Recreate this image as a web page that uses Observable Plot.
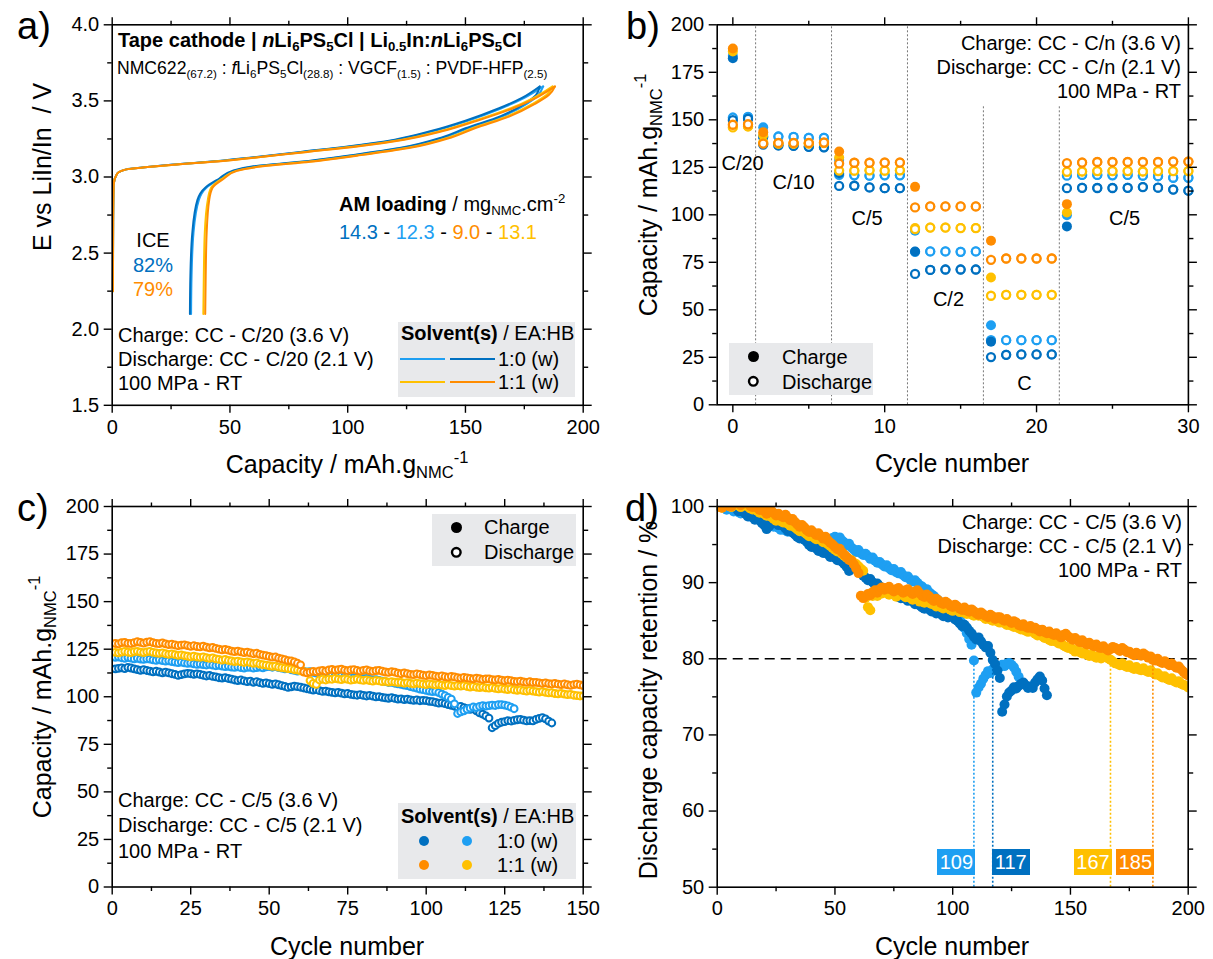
<!DOCTYPE html>
<html><head><meta charset="utf-8">
<script src="https://cdn.jsdelivr.net/npm/d3@7"></script>
<script src="https://cdn.jsdelivr.net/npm/@observablehq/plot@0.6"></script>
<style>
html,body{margin:0;padding:0;background:#fff;}
#fig{position:relative;width:1213px;height:959px;overflow:hidden;font-family:"Liberation Sans",Arial,sans-serif;color:#000;background:#fff;}
.pl{position:absolute;}
.pl svg{overflow:visible;}
.t{position:absolute;white-space:nowrap;line-height:1;}
.t sub{font-size:0.66em;vertical-align:-0.32em;line-height:0;}
.t sup{font-size:0.66em;vertical-align:0.62em;line-height:0;}
.box{position:absolute;background:#e8e9eb;}
</style></head><body><div id="fig"></div><script>
// ---------------- DATA ----------------
const seriesKeys = ["db", "lb", "yl", "or"];   // 1:0 (w) dark, 1:0 (w) light, 1:1 (w) yellow, 1:1 (w) orange
const seriesColors = {db: "#0070C0", lb: "#1E9FF2", yl: "#FFC000", or: "#FF8C00"};

// (a) voltage profiles, first cycle C/20
const chargeV = [2.25,2.70,2.95,3.02,3.05,3.065,3.08,3.105,3.13,3.165,3.20,3.245,3.30,3.37,3.45,3.52,3.595];
const chargeCapDB = [0.3,0.4,0.6,2,6,15,25,45,60,80,100,120,135,150,164,174,181.5];
const chargeCapLB = [0.3,0.4,0.6,2,6,15,25,46,61,81,101,121,136,151,165,175,183];
const chargeCapYL = [0.3,0.4,0.6,2,6,15,26,46,62,82,103,123,139,154,169,179,187];
const chargeCapOR = [0.3,0.4,0.6,2,6,15,26,47,62,83,104,124,140,155,170,180,188];
const dischargeV = [3.595,3.54,3.48,3.40,3.32,3.26,3.19,3.14,3.10,3.07,3.04,2.99,2.93,2.85,2.63,2.35,2.10];
const dischargeCapDB = [181.5,180,175,165,150,140,122,100,80,60,51,45.5,39.5,36.2,34,33.2,33];
const dischargeCapLB = [183,181,176,166,151,141,123,101,81,61,51.5,46,40,36.8,34.5,33.7,33.5];
const dischargeCapYL = [187,184.5,178.5,168,153,143,125,103,83,63,52.5,46.8,42,40.6,39.3,38.9,38.7];
const dischargeCapOR = [188,185.5,179.5,169,154,144,126,104,84,64,53,47.5,42.6,41.2,40.1,39.7,39.5];

// (b) rate capability, cycles 0..30
const rateCycles = [0,1,2,3,4,5,6,7,8,9,10,11,12,13,14,15,16,17,18,19,20,21,22,23,24,25,26,27,28,29,30];
const rateChargeLB = [183.7,151.5,146.1,141.2,141.0,140.5,140.5,128.9,120.8,120.6,120.8,120.8,91.6,80.7,80.7,80.5,80.7,41.9,34.0,34.0,34.0,34.0,99.8,121.0,121.0,120.8,121.0,120.6,120.3,119.5,119.5];
const rateDischargeLB = [151.2,151.5,141.0,141.2,141.0,140.5,140.5,121.0,120.8,120.6,120.8,120.8,80.5,80.7,80.7,80.5,80.7,34.0,34.0,34.0,34.0,34.0,120.6,121.0,121.0,120.8,121.0,120.6,120.3,119.5,119.5];
const rateChargeDB = [182.4,150.5,141.0,136.5,136.3,135.8,135.5,121.9,115.3,114.4,114.0,114.0,80.7,71.0,71.2,71.2,71.2,33.2,26.3,26.5,26.5,26.5,93.9,114.2,114.1,114.1,114.2,114.6,114.3,113.3,112.7];
const rateDischargeDB = [149.8,150.5,137.0,136.5,136.3,135.8,135.5,115.2,115.3,114.4,114.0,114.0,68.9,71.0,71.2,71.2,71.2,25.1,26.3,26.5,26.5,26.5,114.0,114.2,114.1,114.1,114.2,114.6,114.3,113.3,112.7];
const rateChargeYL = [186.0,146.5,142.0,137.5,137.5,137.5,137.8,130.2,123.2,123.4,123.2,123.4,93.0,93.3,93.3,93.0,93.0,67.0,57.9,57.9,57.9,57.9,101.2,122.8,123.0,123.0,123.0,122.8,123.0,123.0,123.0];
const rateDischargeYL = [146.0,146.5,138.0,137.5,137.5,137.5,137.8,123.3,123.2,123.4,123.2,123.4,92.5,93.3,93.3,93.0,93.0,57.4,57.9,57.9,57.9,57.9,122.6,122.8,123.0,123.0,123.0,122.8,123.0,123.0,123.0];
const rateChargeOR = [187.5,147.6,143.5,137.8,137.8,137.8,138.0,133.3,127.4,127.4,127.5,127.5,114.7,104.4,104.4,104.4,104.4,86.3,77.0,77.0,77.0,77.0,105.6,127.5,127.8,127.8,127.8,127.8,127.8,128.0,128.0];
const rateDischargeOR = [147.4,147.6,137.5,137.8,137.8,137.8,138.0,127.0,127.4,127.4,127.5,127.5,103.9,104.4,104.4,104.4,104.4,76.3,77.0,77.0,77.0,77.0,127.2,127.5,127.8,127.8,127.8,127.8,127.8,128.0,128.0];
const rateLabels = ["C/20","C/10","C/5","C/2","C","C/5"];
const rateLabelX = [0.64,4.0,8.84,14.2,19.2,25.8];
const rateLabelY = [127.2,117.2,97.9,55.3,11.4,97.9];
const dividerX = [1.5,6.5,11.5,16.5,21.5];
const dividerTop = [200,200,200,157,157];

// (c)/(d) long cycling at C/5, discharge capacity, cycle 1..N
const cycDB = [114.6,114.9,115.2,114.8,115.4,115.1,114.7,114.3,113.9,
114.2,113.8,113.5,113.1,113.4,113.0,112.6,112.9,112.5,112.1,
111.8,111.2,111.6,112.0,112.3,112.1,111.8,112.0,111.7,111.3,
110.9,111.2,110.7,110.4,110.0,109.8,110.1,109.6,109.3,108.8,
108.5,108.8,108.3,107.9,108.2,107.6,107.9,107.4,107.0,107.3,
106.9,106.5,106.8,106.3,105.9,105.5,104.9,105.2,105.6,105.3,
105.0,104.6,104.2,103.9,103.5,103.7,103.2,102.8,103.0,102.6,
102.3,102.0,102.3,101.9,101.5,101.7,101.3,101.0,100.8,101.1,
100.7,100.4,100.7,100.3,99.9,100.1,99.7,99.4,99.2,99.5,
99.1,98.8,98.9,98.5,98.8,98.4,98.1,98.3,97.9,98.1,
98.0,97.6,97.4,97.0,96.6,96.8,96.4,95.9,95.5,95.0,
94.6,94.9,94.3,93.8,93.4,93.6,92.6,91.5,90.9,89.9,
88.8,83.7,84.8,86.0,86.6,86.9,87.4,87.2,87.6,87.9,
88.1,87.7,87.3,87.5,87.3,88.1,88.6,89.0,88.4,87.2,
86.2];
const cycLB = [120.7,120.9,120.5,120.2,120.6,120.3,119.9,120.2,119.8,
119.6,119.9,119.8,119.4,119.1,119.4,119.0,118.7,118.9,118.5,
118.2,117.9,118.2,117.8,117.5,117.7,117.3,117.0,117.2,116.9,
116.7,117.0,116.6,116.3,116.5,116.1,115.8,116.0,115.6,115.4,
115.7,115.3,115.1,115.4,115.4,115.0,115.3,115.6,115.2,115.7,
115.9,115.5,115.8,115.3,115.0,114.6,114.8,114.2,113.9,113.5,
113.8,113.3,113.0,113.2,112.8,112.4,112.6,112.1,111.8,111.9,
111.5,111.2,111.4,110.9,110.6,110.8,110.3,110.1,110.3,109.8,
109.5,109.6,109.1,108.8,109.0,108.6,108.2,108.0,107.5,107.6,
107.1,106.8,106.5,106.1,105.8,105.3,104.9,104.5,104.0,103.7,
103.3,103.0,102.7,102.8,102.2,101.4,100.6,99.7,98.8,96.3,
91.2,92.0,92.6,93.4,94.0,94.6,94.3,94.9,95.3,95.1,
95.3,95.6,95.4,95.8,95.9,95.6,95.2,94.5,93.7];
const cycYL = [123.3,123.1,123.5,123.8,123.4,123.2,123.7,123.9,123.5,
123.2,123.6,123.8,123.3,123.0,122.8,123.1,122.6,122.3,122.5,
122.1,121.8,122.0,121.6,121.3,121.0,121.3,120.9,120.7,121.0,
120.5,120.2,120.4,119.9,119.6,119.3,119.6,119.1,118.8,118.5,
118.7,118.3,118.0,118.3,117.9,117.5,117.8,117.2,116.9,116.6,
116.3,116.0,116.1,115.6,115.3,115.0,114.8,114.6,114.2,114.0,
113.6,113.2,112.9,108.5,107.0,106.5,108.8,109.2,108.8,109.3,
109.2,109.6,109.3,109.0,109.4,109.1,108.7,109.0,109.3,108.9,
108.6,108.9,108.5,108.2,108.6,108.3,107.9,108.1,107.7,108.0,
107.7,107.5,107.5,107.1,107.4,107.0,106.8,107.2,106.9,106.6,
106.4,106.8,106.5,106.2,106.5,106.1,105.9,106.2,105.8,105.6,
105.9,105.6,105.8,105.4,105.1,105.4,105.0,104.8,105.1,104.7,
104.5,104.8,104.4,104.1,104.4,104.0,103.8,104.1,103.6,103.4,
103.6,103.2,103.0,103.3,103.0,102.7,102.4,102.7,102.3,102.0,
102.1,101.7,101.5,101.8,101.4,101.1,101.2,100.8,100.6,100.4,
100.5,100.1,99.8,100.1,99.7,99.5,99.7,99.3,99.1,99.3,
99.0,98.8,99.1,98.7,98.9,99.0,98.7,98.5,98.2,97.9,
97.8,97.6,97.9,97.5,97.3,97.6,97.2,97.0,97.3,96.9,
96.8,97.1,96.7,96.5,96.8,96.4,96.1,96.3,95.9,95.6,
95.8,95.4,95.2,95.5,95.0,94.8,95.0,94.6,94.4,94.3,
94.0];
const cycOR = [128.0,127.8,128.4,128.6,128.1,128.0,128.5,128.9,128.6,
128.2,128.7,129.0,128.5,128.1,127.9,128.3,127.8,127.4,127.6,
127.2,126.8,127.1,127.3,126.9,126.5,126.8,126.4,126.2,126.6,
126.1,125.7,125.9,125.4,125.0,124.6,124.9,124.5,124.0,123.7,
124.0,123.6,123.2,123.5,123.0,122.6,122.9,122.3,121.9,121.6,
121.2,120.8,120.9,120.3,119.9,119.5,119.0,118.9,118.3,117.6,
116.8,113.0,112.6,112.9,113.3,113.1,113.6,113.9,113.5,114.1,
114.4,114.0,114.3,114.5,114.0,113.7,114.1,114.3,113.8,113.5,
113.9,114.1,113.6,113.3,113.7,113.9,113.4,113.0,112.8,113.2,
112.9,112.4,112.1,112.5,112.2,111.8,111.6,112.0,111.7,111.3,
111.1,111.5,111.2,110.8,110.6,111.0,110.5,110.3,110.7,110.4,
110.0,109.8,110.2,109.9,109.6,109.4,109.8,109.5,109.1,109.4,
109.4,109.0,108.8,109.1,108.7,108.4,108.7,108.5,108.1,107.9,
108.2,107.8,107.6,107.9,107.5,107.6,107.3,107.0,107.3,106.9,
106.7,107.0,106.6,106.4,106.7,106.3,106.0,106.4,106.6,106.2,
105.9,105.6,105.9,105.5,105.2,105.5,105.0,104.8,105.1,104.7,
104.5,104.8,104.3,104.2,104.5,104.1,103.8,104.0,104.4,104.2,
104.0,103.7,104.2,103.9,103.5,103.6,103.2,103.0,103.4,103.1,
102.9,103.3,103.0,102.6,102.8,102.2,102.1,102.4,101.9,101.7,
102.0,101.6,101.3,101.6,101.2,100.9,101.1,100.6,100.2,99.8,
99.6];
const eolThreshold = [80];
const eolCycles = [109, 117, 167, 185];
const eolSeries = ["lb", "db", "yl", "or"];

// ---------------- HELPERS ----------------
const fig = document.getElementById("fig");
const FONT = '"Liberation Sans", Arial, sans-serif';
function txt(html, x, base, o = {}) {
  const s = o.size || 20;
  const d = document.createElement("div");
  d.className = "t";
  d.innerHTML = html;
  d.style.fontSize = s + "px";
  if (o.bold) d.style.fontWeight = "bold";
  if (o.color) d.style.color = o.color;
  d.style.left = x + "px";
  d.style.top = (base - 0.847 * s) + "px";
  const a = o.anchor || "start";
  if (a === "middle") d.style.transform = "translateX(-50%)";
  if (a === "end") d.style.transform = "translateX(-100%)";
  fig.appendChild(d);
  return d;
}
function vtxt(html, cx, cy, s = 25) {
  const d = document.createElement("div");
  d.className = "t";
  d.innerHTML = html;
  d.style.fontSize = s + "px";
  d.style.left = cx + "px";
  d.style.top = cy + "px";
  d.style.transform = "translate(-50%,-50%) rotate(-90deg)";
  fig.appendChild(d);
}
function box(x, y, w, h, color = "#e8e9eb") {
  const d = document.createElement("div");
  d.className = "box";
  Object.assign(d.style, {left: x + "px", top: y + "px", width: w + "px", height: h + "px", background: color});
  fig.appendChild(d);
  return d;
}
function dotIcon(cx, cy, r, fill, stroke, sw) {
  const ns = "http://www.w3.org/2000/svg";
  const s = document.createElementNS(ns, "svg");
  const size = 2 * r + 6;
  s.setAttribute("width", size); s.setAttribute("height", size);
  s.style.position = "absolute"; s.style.left = (cx - size / 2) + "px"; s.style.top = (cy - size / 2) + "px";
  const c = document.createElementNS(ns, "circle");
  c.setAttribute("cx", size / 2); c.setAttribute("cy", size / 2); c.setAttribute("r", r);
  c.setAttribute("fill", fill); c.setAttribute("stroke", stroke || "none"); c.setAttribute("stroke-width", sw || 0);
  s.appendChild(c); fig.appendChild(s);
}
function lineIcon(x, y, w, color) {
  box(x, y - 1, w, 2.2, color);
}
function place(svg, left, top) {
  const w = document.createElement("div");
  w.className = "pl"; w.style.left = left + "px"; w.style.top = top + "px";
  w.appendChild(svg); fig.appendChild(w);
}
const blank = () => "";
function frameAxes(o) {
  const k = {label: null, strokeWidth: 1.4};
  return [
    Plot.axisX({...k, ticks: o.xMajor, anchor: "bottom", tickSize: 8, tickPadding: 6, tickFormat: o.xFmt || (d => String(d))}),
    Plot.axisX({...k, ticks: o.xMinor, anchor: "bottom", tickSize: 4.5, tickFormat: blank}),
    Plot.axisX({...k, ticks: o.xMajor, anchor: "top", tickSize: 8, tickFormat: blank}),
    Plot.axisX({...k, ticks: o.xMinor, anchor: "top", tickSize: 4.5, tickFormat: blank}),
    Plot.axisY({...k, ticks: o.yMajor, anchor: "left", tickSize: 8, tickPadding: 5, tickFormat: o.yFmt || (d => String(d))}),
    Plot.axisY({...k, ticks: o.yMinor, anchor: "left", tickSize: 4.5, tickFormat: blank}),
    Plot.axisY({...k, ticks: o.yMajor, anchor: "right", tickSize: 8, tickFormat: blank}),
    Plot.axisY({...k, ticks: o.yMinor, anchor: "right", tickSize: 4.5, tickFormat: blank}),
    Plot.frame({strokeWidth: 1.6})
  ];
}
const plotStyle = {fontFamily: FONT, fontSize: "20px", color: "black", background: "none", overflow: "visible"};
const range = (a, b, s) => d3.range(a, b + 1e-9, s);

// ---------------- PANEL A ----------------
const capA = {
  db: [chargeCapDB, dischargeCapDB], lb: [chargeCapLB, dischargeCapLB],
  yl: [chargeCapYL, dischargeCapYL], or: [chargeCapOR, dischargeCapOR]
};
const orderA = ["lb", "db", "yl", "or"];
const linesA = [];
for (const s of orderA) {
  const ch = chargeV.map((v, i) => ({C: capA[s][0][i], V: v}));
  const dis = dischargeV.map((v, i) => ({C: capA[s][1][i], V: v})).reverse();
  linesA.push(Plot.line(ch, {x: "C", y: "V", stroke: seriesColors[s], strokeWidth: 2, curve: "monotone-y"}));
  linesA.push(Plot.line(dis, {x: "C", y: "V", stroke: seriesColors[s], strokeWidth: 2, curve: "monotone-y"}));
}
const pA = Plot.plot({
  width: 606, height: 480, marginLeft: 111.7, marginRight: 23.3, marginTop: 24.3, marginBottom: 75.2,
  x: {domain: [0, 200]}, y: {domain: [1.5, 4.0]}, style: plotStyle,
  marks: [...linesA, ...frameAxes({xMajor: range(0, 200, 50), xMinor: range(25, 175, 50),
    yMajor: range(1.5, 4.0, 0.5), yMinor: range(1.75, 3.75, 0.5), yFmt: d3.format(".1f")})]
});
place(pA, 0, 0);

// ---------------- PANEL B ----------------
const rateData = {
  lb: [rateChargeLB, rateDischargeLB], db: [rateChargeDB, rateDischargeDB],
  yl: [rateChargeYL, rateDischargeYL], or: [rateChargeOR, rateDischargeOR]
};
const dotsB = [];
for (const s of ["lb", "db", "yl", "or"]) {
  const ch = rateCycles.map((c, i) => ({c, v: rateData[s][0][i]}));
  const dis = rateCycles.map((c, i) => ({c, v: rateData[s][1][i]}));
  dotsB.push(Plot.dot(ch, {x: "c", y: "v", r: 5, fill: seriesColors[s], stroke: "none"}));
  dotsB.push(Plot.dot(dis, {x: "c", y: "v", r: 4, fill: "white", stroke: seriesColors[s], strokeWidth: 2.3}));
}
const dividers = dividerX.map((x, i) => ({x, top: dividerTop[i]}));
const rateLab = rateLabels.map((t, i) => ({t, x: rateLabelX[i], y: rateLabelY[i]}));
const pB = Plot.plot({
  width: 607, height: 480, marginLeft: 110.7, marginRight: 25.1, marginTop: 24.3, marginBottom: 75.7,
  x: {domain: [-1.03, 30]}, y: {domain: [0, 200]}, style: plotStyle,
  marks: [
    Plot.ruleX(dividers, {x: "x", y1: 0, y2: "top", stroke: "#777", strokeWidth: 1, strokeDasharray: "2,2"}),
    ...dotsB,
    Plot.text(rateLab, {x: "x", y: "y", text: "t", fontSize: 20, fill: "black"}),
    ...frameAxes({xMajor: [0, 10, 20, 30], xMinor: [5, 15, 25], yMajor: range(0, 200, 25), yMinor: range(12.5, 187.5, 25)})
  ]
});
place(pB, 606, 0);

// ---------------- PANEL C ----------------
const cyc = {db: cycDB, lb: cycLB, yl: cycYL, or: cycOR};
const dotsC = [];
for (const s of ["db", "lb", "yl", "or"]) {
  const rows = cyc[s].map((v, i) => ({c: i + 1, v}));
  dotsC.push(Plot.dot(rows, {x: "c", y: "v", r: 3.4, fill: "white", stroke: seriesColors[s], strokeWidth: 2, clip: true}));
}
const pC = Plot.plot({
  width: 606, height: 479, marginLeft: 111.7, marginRight: 23.3, marginTop: 26, marginBottom: 72.5,
  x: {domain: [0, 150]}, y: {domain: [0, 200]}, style: plotStyle,
  marks: [...dotsC, ...frameAxes({xMajor: range(0, 150, 25), xMinor: range(12.5, 137.5, 25),
    yMajor: range(0, 200, 25), yMinor: range(12.5, 187.5, 25)})]
});
place(pC, 0, 480);

// ---------------- PANEL D ----------------
const dotsD = [];
for (const s of ["lb", "db", "yl", "or"]) {
  const ref = cyc[s][0];
  const rows = cyc[s].map((v, i) => ({c: i + 1, r: v / ref * 100}));
  dotsD.push(Plot.dot(rows, {x: "c", y: "r", r: 5, fill: seriesColors[s], stroke: "none", clip: true}));
}
const eolRows = eolCycles.map((c, i) => ({c, color: seriesColors[eolSeries[i]]}));
const pD = Plot.plot({
  width: 607, height: 479, marginLeft: 110.7, marginRight: 25.3, marginTop: 26, marginBottom: 72.3,
  x: {domain: [0, 200]}, y: {domain: [50, 100]}, style: plotStyle,
  marks: [
    Plot.ruleY(eolThreshold, {stroke: "black", strokeWidth: 1.6, strokeDasharray: "10,6"}),
    ...dotsD,
    ...eolRows.map(d => Plot.ruleX([d.c], {y1: 50, y2: eolThreshold[0], stroke: d.color, strokeWidth: 1.6, strokeDasharray: "2,2"})),
    ...frameAxes({xMajor: range(0, 200, 50), xMinor: range(25, 175, 50), yMajor: range(50, 100, 10), yMinor: range(55, 95, 10)})
  ]
});
place(pD, 606, 480);

// EOL labels in (d)
{
  const xs = pD.scale("x"), ys = pD.scale("y");
  const top = 480 + ys.apply(55.0), bot = 480 + ys.apply(51.55);
  const w = 38;
  eolCycles.forEach((c, i) => {
    const px = 606 + xs.apply(c);
    const left = (c === 117) ? px - 0.5 : px - w + 2;
    box(left, top, w, bot - top, seriesColors[eolSeries[i]]);
    txt(String(c), left + w / 2, top + (bot - top) / 2 + 7, {color: "white", anchor: "middle", size: 20});
  });
}

// ---------------- TEXT / LEGENDS ----------------
// panel letters
txt("a)", 17, 39, {size: 38}); txt("b)", 626, 39, {size: 38});
txt("c)", 17, 521, {size: 38}); txt("d)", 625, 521, {size: 38});

// axis titles
const capTitle = "Capacity / mAh.g<sub>NMC</sub><sup>-1</sup>";
txt(capTitle, 347, 473, {size: 25, anchor: "middle"});
txt("Cycle number", 952, 472, {size: 25, anchor: "middle"});
txt("Cycle number", 347, 955, {size: 25, anchor: "middle"});
txt("Cycle number", 952, 955, {size: 25, anchor: "middle"});
vtxt("E vs LiIn/In&nbsp; / V", 42, 167);
vtxt(capTitle, 648, 195);
vtxt(capTitle, 42, 697);
vtxt("Discharge capacity retention / %", 648, 700);

// panel a texts
txt("Tape cathode | <i>n</i>Li<sub>6</sub>PS<sub>5</sub>Cl | Li<sub>0.5</sub>In:<i>n</i>Li<sub>6</sub>PS<sub>5</sub>Cl", 118, 47, {size: 20, bold: true});
txt("NMC622<sub>(67.2)</sub> : <i>f</i>Li<sub>6</sub>PS<sub>5</sub>Cl<sub>(28.8)</sub> : VGCF<sub>(1.5)</sub> : PVDF-HFP<sub>(2.5)</sub>", 117, 75, {size: 17.6});
txt("<b>AM loading</b> / mg<sub>NMC</sub>.cm<sup>-2</sup>", 339, 211, {size: 20});
txt(`<span style="color:${seriesColors.db}">14.3</span> - <span style="color:${seriesColors.lb}">12.3</span> - <span style="color:${seriesColors.or}">9.0</span> - <span style="color:${seriesColors.yl}">13.1</span>`, 339, 238.5, {size: 20});
txt("ICE", 153, 247, {size: 20, anchor: "middle"});
txt("82%", 153, 272, {size: 20, anchor: "middle", color: seriesColors.db});
txt("79%", 153, 296, {size: 20, anchor: "middle", color: seriesColors.or});
txt("Charge: CC - C/20 (3.6 V)", 118, 342, {size: 20});
txt("Discharge: CC - C/20 (2.1 V)", 118, 366, {size: 20});
txt("100 MPa - RT", 118, 390, {size: 20});
box(398, 321.5, 177, 75);
txt("<b>Solvent(s)</b> / EA:HB", 401, 340, {size: 20});
lineIcon(400, 359, 45, seriesColors.lb); lineIcon(450, 359, 45, seriesColors.db);
lineIcon(400, 382, 45, seriesColors.yl); lineIcon(450, 382, 45, seriesColors.or);
txt("1:0 (w)", 498, 366, {size: 20});
txt("1:1 (w)", 498, 389, {size: 20});

// panel b texts
txt("Charge: CC - C/n (3.6 V)", 1181, 49.5, {size: 20, anchor: "end"});
txt("Discharge: CC - C/n (2.1 V)", 1181, 73.5, {size: 20, anchor: "end"});
txt("100 MPa - RT", 1181, 97.5, {size: 20, anchor: "end"});
box(729, 343, 144, 52);
dotIcon(753.3, 356.7, 5.5, "black");
dotIcon(753.3, 381.7, 4.3, "white", "black", 2.4);
txt("Charge", 782, 363.7, {size: 20});
txt("Discharge", 782, 388.7, {size: 20});

// panel c texts
box(431.7, 514, 144.3, 52);
dotIcon(456, 527.3, 5.5, "black");
dotIcon(456, 552.3, 4.3, "white", "black", 2.4);
txt("Charge", 484, 534.3, {size: 20});
txt("Discharge", 484, 559.3, {size: 20});
txt("Charge: CC - C/5 (3.6 V)", 118, 807, {size: 20});
txt("Discharge: CC - C/5 (2.1 V)", 118, 832, {size: 20});
txt("100 MPa - RT", 118, 858, {size: 20});
box(398, 803, 178, 76);
txt("<b>Solvent(s)</b> / EA:HB", 401, 823, {size: 20});
dotIcon(423.5, 840.7, 5, seriesColors.db); dotIcon(466.7, 840.7, 5, seriesColors.lb);
dotIcon(423.5, 865, 5, seriesColors.or); dotIcon(466.7, 865, 5, seriesColors.yl);
txt("1:0 (w)", 497, 848, {size: 20});
txt("1:1 (w)", 497, 872, {size: 20});

// panel d texts
txt("Charge: CC - C/5 (3.6 V)", 1182, 528.5, {size: 20, anchor: "end"});
txt("Discharge: CC - C/5 (2.1 V)", 1182, 552.5, {size: 20, anchor: "end"});
txt("100 MPa - RT", 1182, 576.5, {size: 20, anchor: "end"});
</script></body></html>
